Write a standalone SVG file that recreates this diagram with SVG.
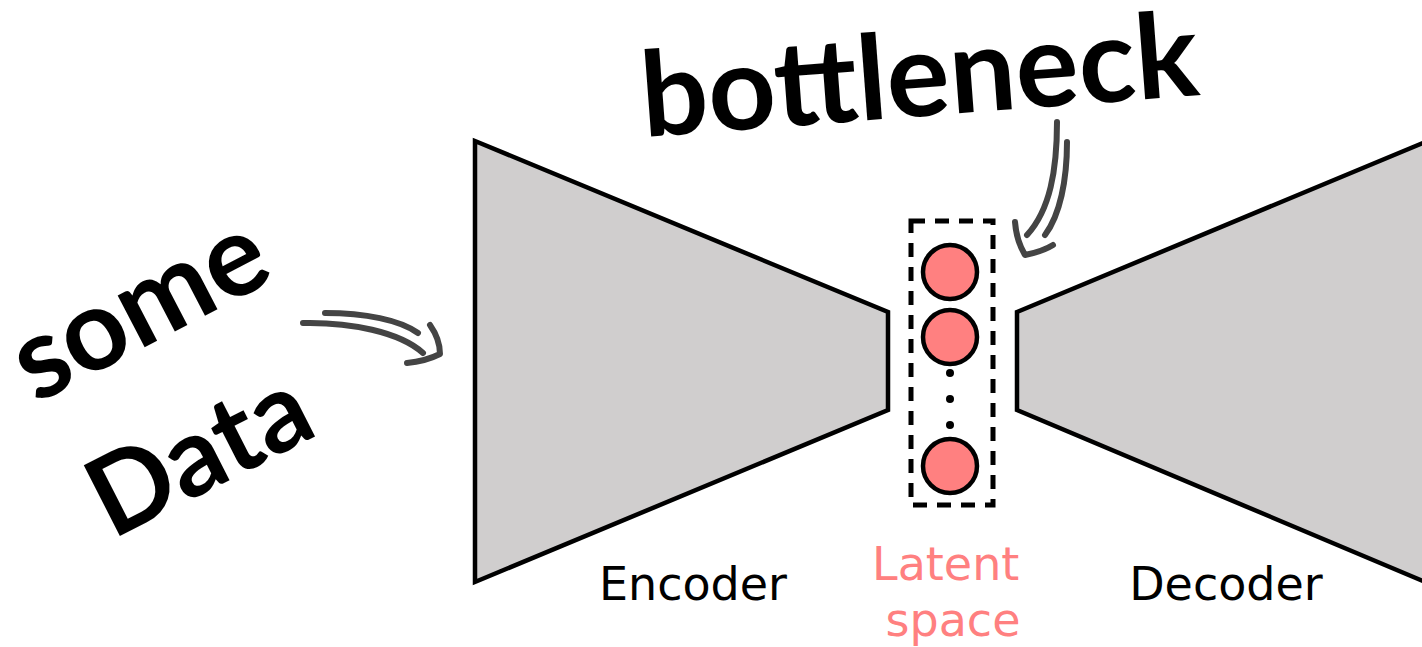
<svg xmlns="http://www.w3.org/2000/svg" width="1422" height="647" viewBox="0 0 1422 647">
  <style>
    .block { fill: #d0cece; stroke: #000; stroke-width: 4.5; stroke-linejoin: miter; }
    .unit { fill: #ff8080; stroke: #000; stroke-width: 4.5; }
    .caption { font-family: "DejaVu Sans", sans-serif; font-size: 46px; text-anchor: middle; }
    .note { font-family: Lato, "Open Sans", sans-serif; font-weight: 700; fill: #000; }
    .sketch { fill: none; stroke: #444; stroke-width: 6; stroke-linecap: round; stroke-linejoin: round; }
  </style>

  <rect width="1422" height="647" fill="#fff"/>

  <!-- encoder block -->
  <g id="encoder">
    <polygon class="block" points="475,141 888,312 888,410 475,582"/>
    <text class="caption" x="693" y="600" fill="#000">Encoder</text>
  </g>

  <!-- decoder block, running off the right edge -->
  <g id="decoder">
    <polygon class="block" points="1017,312 1430,140 1430,584 1017,410"/>
    <text class="caption" x="1226" y="600" fill="#000">Decoder</text>
  </g>

  <!-- latent space: dashed frame with units -->
  <g id="latent">
    <rect x="911" y="221" width="82" height="284" fill="none" stroke="#000" stroke-width="5" stroke-dasharray="14 10"/>
    <circle class="unit" cx="950" cy="272" r="27"/>
    <circle class="unit" cx="950" cy="337" r="27"/>
    <circle class="unit" cx="950" cy="466" r="27"/>
    <circle cx="950" cy="373" r="4" fill="#000"/>
    <circle cx="950" cy="399" r="4" fill="#000"/>
    <circle cx="950" cy="425" r="4" fill="#000"/>
    <text class="caption" fill="#ff8080">
      <tspan x="953" y="580">Latent</tspan>
      <tspan x="953" y="636">space</tspan>
    </text>
  </g>

  <!-- handwritten labels -->
  <g id="label-bottleneck">
    <text class="note" font-size="118" transform="translate(644,137) rotate(-4.3)">bottleneck</text>
  </g>
  <g id="label-data">
    <text class="note" font-size="114" transform="translate(36,404) rotate(-27.5)">some</text>
    <text class="note" font-size="110" transform="translate(112,540) rotate(-27)">Data</text>
  </g>

  <!-- sketched double arrows -->
  <g id="connectors">
    <g id="arrow-data">
      <path class="sketch" d="M303,323 C350,322 400,332 423,353"/>
      <path class="sketch" d="M325,313 C365,313 400,320 418,333"/>
      <path class="sketch" d="M430,325 C437,335 440,345 440,354 C428,360 418,362 407,363"/>
    </g>
    <g id="arrow-bottleneck">
      <path class="sketch" d="M1057,122 C1057,170 1050,210 1027,235"/>
      <path class="sketch" d="M1067,142 C1067,180 1060,215 1045,235"/>
      <path class="sketch" d="M1015,222 C1016,235 1019,245 1025,255 C1035,253 1045,250 1053,245"/>
    </g>
  </g>
</svg>
